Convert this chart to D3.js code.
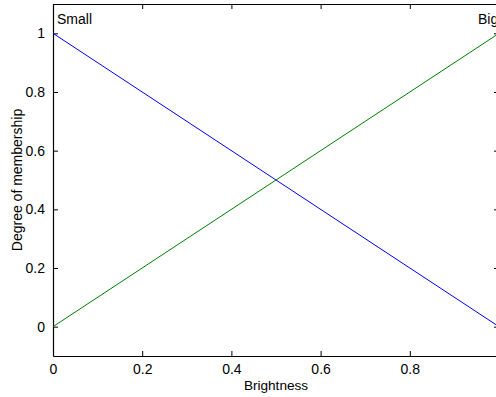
<!DOCTYPE html>
<html>
<head>
<meta charset="utf-8">
<script src="https://cdn.jsdelivr.net/npm/d3@7"></script>
<style>
  html, body { margin: 0; padding: 0; background: #fff; }
  svg { display: block; font-family: "Liberation Sans", Arial, sans-serif; }
</style>
</head>
<body>
<script>
// membership functions
const brightness = [0, 1];
const small = [1, 0];
const big = [0, 1];
const setNames = ["Small", "Big"];
// x = 1 falls just past the right edge of the window, so no label there
const xTicks = [0, 0.2, 0.4, 0.6, 0.8];
const yTicks = [0, 0.2, 0.4, 0.6, 0.8, 1];

const width = 496, height = 397;
const margin = { left: 53, top: 4, right: -3, bottom: 41 };
const fs = 14;

const svg = d3.select("body").append("svg")
  .attr("width", width).attr("height", height);

const x = d3.scaleLinear().domain([0, 1]).range([margin.left, width - margin.right]);
const y = d3.scaleLinear().domain([-0.1, 1.1]).range([height - margin.bottom, margin.top]);

const fmt = d => d === 0 ? "0" : d === 1 ? "1" : String(d);

// box axes, ticks pointing inward like MATLAB
const gx = svg.append("g").attr("transform", `translate(0,${y(-0.1)})`)
  .call(d3.axisBottom(x).tickValues(xTicks).tickFormat(fmt).tickSizeInner(-5).tickSizeOuter(0).tickPadding(8));
const gxTop = svg.append("g").attr("transform", `translate(0,${y(1.1)})`)
  .call(d3.axisTop(x).tickValues(xTicks).tickFormat("").tickSizeInner(-5).tickSizeOuter(0));
const gy = svg.append("g").attr("transform", `translate(${x(0)},0)`)
  .call(d3.axisLeft(y).tickValues(yTicks).tickFormat(fmt).tickSizeInner(-5).tickSizeOuter(0).tickPadding(8));
const gyRight = svg.append("g").attr("transform", `translate(${x(1)},0)`)
  .call(d3.axisRight(y).tickValues(yTicks).tickFormat("").tickSizeInner(-5).tickSizeOuter(0));

[gx, gxTop, gy, gyRight].forEach(g => {
  g.selectAll(".domain").attr("stroke", "#000").attr("stroke-width", 1.2);
  g.selectAll(".tick line").attr("stroke", "#000");
  g.selectAll("text").attr("fill", "#000").attr("font-size", fs).attr("font-family", "Liberation Sans, Arial, sans-serif");
});

const line = d3.line().x(d => x(d[0])).y(d => y(d[1]));
svg.append("path").datum(d3.zip(brightness, small))
  .attr("d", line).attr("fill", "none").attr("stroke", "#0000ff").attr("stroke-width", 1);
svg.append("path").datum(d3.zip(brightness, big))
  .attr("d", line).attr("fill", "none").attr("stroke", "#008000").attr("stroke-width", 1);

// set labels at the top
svg.append("text").attr("x", x(0) + 4).attr("y", 24).attr("font-size", fs).text(setNames[0]);
svg.append("text").attr("x", x(1) - 21).attr("y", 24).attr("font-size", fs).text(setNames[1]);

// axis titles
svg.append("text").attr("x", x(0.5)).attr("y", 390).attr("text-anchor", "middle")
  .attr("font-size", 13.6).text("Brightness");
svg.append("text").attr("transform", `translate(22,${y(0.5)}) rotate(-90)`)
  .attr("text-anchor", "middle").attr("font-size", fs).text("Degree of membership");
</script>
</body>
</html>
